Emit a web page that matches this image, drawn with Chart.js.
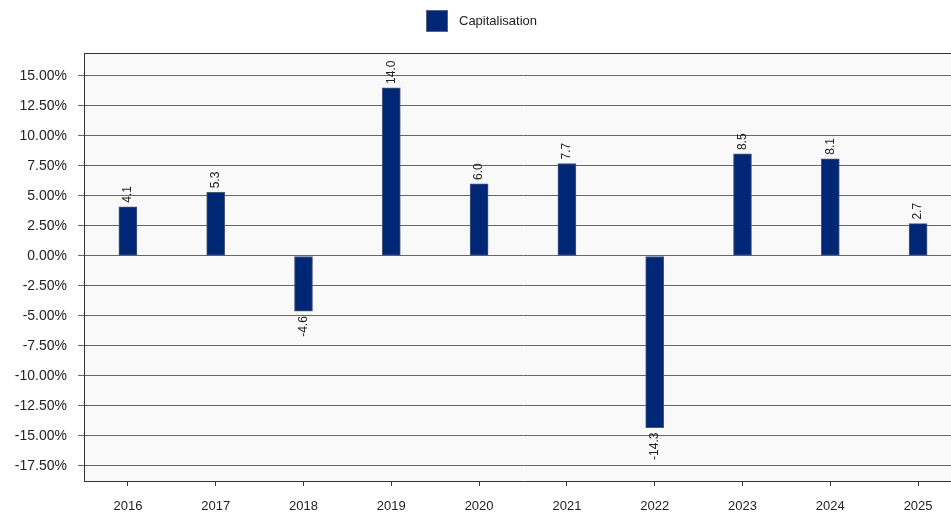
<!DOCTYPE html>
<html>
<head>
<meta charset="utf-8">
<script src="https://cdn.jsdelivr.net/npm/chart.js@4/dist/chart.umd.min.js"></script>
<style>
  html, body { margin: 0; padding: 0; background: #fff; }
  #frame { width: 951px; height: 512px; overflow: hidden; }
  #wrap { width: 962px; height: 512px; }
</style>
</head>
<body>
<div id="frame"><div id="wrap"><canvas id="chart"></canvas></div></div>
<script>
const years = ["2016", "2017", "2018", "2019", "2020", "2021", "2022", "2023", "2024", "2025"]
const capitalisation = [4.1, 5.3, -4.6, 14.0, 6.0, 7.7, -14.3, 8.5, 8.1, 2.7]
const yTicks = [-17.5, -15, -12.5, -10, -7.5, -5, -2.5, 0, 2.5, 5, 7.5, 10, 12.5, 15]
const seriesLabel = "Capitalisation"

const FONT = "'Liberation Sans', Arial, sans-serif"
const BAR_COLOR = "#002776"

// fond gris clair + bordure haute du cadre
const plotFrame = {
  id: "plotFrame",
  beforeDraw(chart) {
    const { ctx, chartArea: a } = chart
    ctx.save()
    ctx.fillStyle = "#f9f9f9"
    ctx.fillRect(a.left, a.top, a.right - a.left, a.bottom - a.top)
    ctx.restore()
  },
  afterDraw(chart) {
    const { ctx, chartArea: a } = chart
    ctx.save()
    ctx.strokeStyle = "#333"
    ctx.lineWidth = 1
    ctx.beginPath()
    ctx.moveTo(a.left, a.top + 0.5)
    ctx.lineTo(a.right, a.top + 0.5)
    ctx.stroke()
    ctx.restore()
  },
}

// légende dessinée à la main
const topLegend = {
  id: "topLegend",
  afterDraw(chart) {
    const ctx = chart.ctx
    ctx.save()
    ctx.fillStyle = BAR_COLOR
    ctx.fillRect(426, 10, 22, 22)
    ctx.strokeStyle = "#5a6480"
    ctx.lineWidth = 1
    ctx.strokeRect(426.5, 10.5, 21, 21)
    ctx.fillStyle = "#222"
    ctx.font = "13px " + FONT
    ctx.textBaseline = "middle"
    ctx.textAlign = "left"
    ctx.fillText(chart.data.datasets[0].label, 459, 21)
    ctx.restore()
  },
}

// valeurs verticales au bout des barres
const barValues = {
  id: "barValues",
  afterDatasetsDraw(chart) {
    const ctx = chart.ctx
    const meta = chart.getDatasetMeta(0)
    ctx.save()
    ctx.fillStyle = "#222"
    ctx.font = "12px " + FONT
    ctx.textBaseline = "middle"
    meta.data.forEach((bar, i) => {
      const v = chart.data.datasets[0].data[i]
      ctx.save()
      if (v >= 0) {
        ctx.translate(bar.x, bar.y - 4)
        ctx.rotate(-Math.PI / 2)
        ctx.textAlign = "left"
      } else {
        ctx.translate(bar.x, bar.y + 5)
        ctx.rotate(-Math.PI / 2)
        ctx.textAlign = "right"
      }
      ctx.fillText(v.toFixed(1), 0, 0)
      ctx.restore()
    })
    ctx.restore()
  },
}

new Chart(document.getElementById("chart"), {
  type: "bar",
  data: {
    labels: years,
    datasets: [
      {
        label: seriesLabel,
        data: capitalisation,
        backgroundColor: BAR_COLOR,
        borderColor: "#4a5677",
        borderWidth: 1,
        borderSkipped: false,
        barThickness: 18,
      },
    ],
  },
  options: {
    responsive: true,
    maintainAspectRatio: false,
    animation: false,
    layout: { padding: { top: 53, left: 0, right: 0, bottom: 0 } },
    plugins: {
      legend: { display: false },
      tooltip: { enabled: false },
    },
    scales: {
      x: {
        afterFit: (s) => { s.height = 31 },
        grid: { offset: false, drawOnChartArea: false, tickLength: 5, color: "#333" },
        border: { display: true, color: "#333" },
        ticks: { color: "#222", font: { family: FONT, size: 13 }, padding: 13, maxRotation: 0 },
      },
      y: {
        min: -18.75,
        max: 16.91,
        afterFit: (s) => { s.width = 84 },
        afterBuildTicks: (s) => { s.ticks = yTicks.map((v) => ({ value: v })) },
        grid: { color: "#666", tickLength: 6 },
        border: { display: true, color: "#333" },
        ticks: {
          color: "#222",
          font: { family: FONT, size: 14 },
          padding: 11,
          callback: (v) => Number(v).toFixed(2) + "%",
        },
      },
    },
  },
  plugins: [plotFrame, topLegend, barValues],
})
</script>
</body>
</html>
